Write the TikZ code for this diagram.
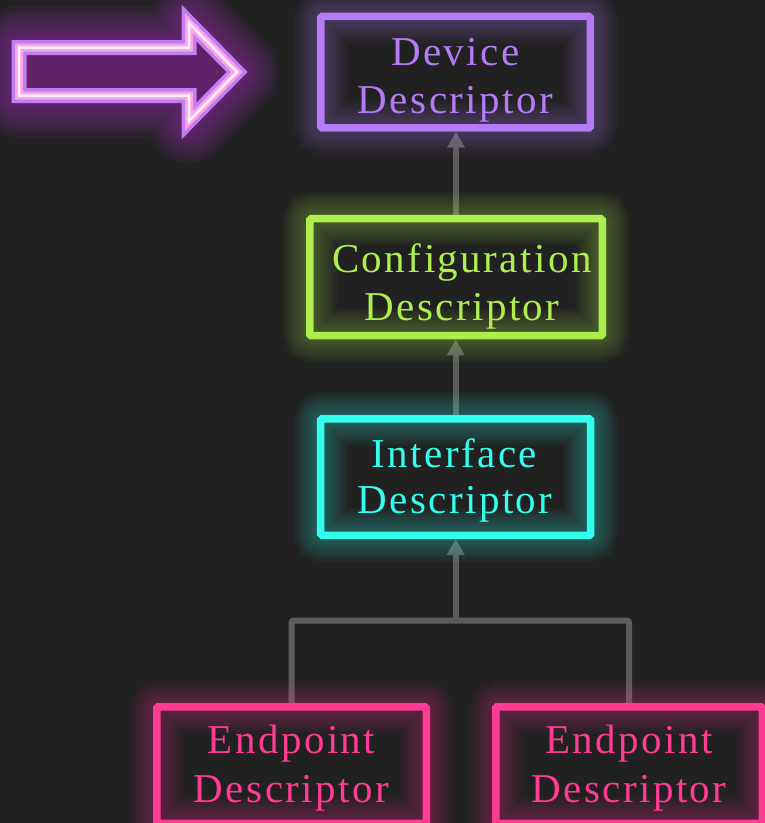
\documentclass[tikz,border=0pt]{standalone}
\usepackage{fontspec}
\newfontfamily\lblfont{Liberation Serif}[LetterSpace=6]
\usetikzlibrary{arrows.meta}
\definecolor{bg}{HTML}{212121}
\definecolor{cpurple}{HTML}{B47BF5}
\definecolor{cgreen}{HTML}{AEEE4E}
\definecolor{ccyan}{HTML}{33FFEE}
\definecolor{cpink}{HTML}{FF3B94}
\definecolor{connc}{HTML}{5C5C5C}
\definecolor{arrviolet}{HTML}{C07EF2}
\definecolor{arrpink}{HTML}{FFA2E4}
\definecolor{arrwhite}{HTML}{FFF2FF}
\definecolor{arrfill}{HTML}{62226A}
\definecolor{arrglow}{HTML}{9A30B0}
\pgfdeclarelayer{back}
\pgfdeclarelayer{mid}
\pgfsetlayers{back,mid,main}
\begin{document}
\begin{tikzpicture}[x=1pt,y=-1pt,
  box/.style={draw=#1, line width=7.5pt, rounded corners=1.5pt, inner sep=0pt},
  lbl/.style={font=\lblfont\fontsize{41}{48}\selectfont, text=#1, anchor=base, inner sep=0pt},
  conn/.style={draw=connc, line width=6pt},
  tip/.style={-{Triangle[width=17pt,length=16pt]}},
  glowline/.style={draw=#1, opacity=0.04, rounded corners=4pt}
]
\useasboundingbox (0,0) rectangle (765,823);
\begin{pgfonlayer}{back}
  \fill[bg] (0,0) rectangle (765,823);
\end{pgfonlayer}

% boxes
\node[box=cpurple, minimum width=269.5pt, minimum height=111.5pt] (dev) at (455.5,72.2) {};
\node[box=cgreen,  minimum width=292.5pt, minimum height=117pt]   (cfg) at (456,277.2) {};
\node[box=ccyan,   minimum width=270pt,   minimum height=116.5pt] (ifc) at (455.7,477) {};
\node[box=cpink,   minimum width=269.5pt, minimum height=116.5pt] (ep1) at (291.5,765) {};
\node[box=cpink,   minimum width=266.5pt, minimum height=116.5pt] (ep2) at (629,765) {};

% labels
\node[lbl=cpurple] (devA) at (455.5,65) {Device};
\node[lbl=cpurple] (devB) at (455.5,113) {Descriptor};
\node[lbl=cgreen] (cfgA) at (462,272) {Configuration};
\node[lbl=cgreen] (cfgB) at (462,320) {Descriptor};
\node[lbl=ccyan] (ifcA) at (454.5,467) {Interface};
\node[lbl=ccyan] (ifcB) at (455,513) {Descriptor};
\node[lbl=cpink] (ep1A) at (291.5,753) {Endpoint};
\node[lbl=cpink] (ep1B) at (291.5,802) {Descriptor};
\node[lbl=cpink] (ep2A) at (629,753) {Endpoint};
\node[lbl=cpink] (ep2B) at (629,802) {Descriptor};

% connectors
\coordinate (jn) at (455.7,620.7);
\begin{pgfonlayer}{back}
  \draw[conn,tip] (cfg.north) -- (cfg.north |- dev.south);
  \draw[conn,tip] (ifc.north) -- (ifc.north |- cfg.south);
  \draw[conn, rounded corners=2pt] (ep1.north) |- (jn) -| (ep2.north);
  \draw[conn,tip] (jn) -- (jn |- ifc.south);
\end{pgfonlayer}

% glows
\begin{pgfonlayer}{mid}
  \foreach \n/\c in {dev/cpurple, cfg/cgreen, ifc/ccyan, ep1/cpink, ep2/cpink} {
    \foreach \w in {12,18,...,54} {
      \draw[glowline=\c, line width=\w pt]
        ([xshift=3.75pt,yshift=-3.75pt]\n.north west) rectangle
        ([xshift=-3.75pt,yshift=3.75pt]\n.south east);
    }
  }
\end{pgfonlayer}

% big arrow
\coordinate (p1) at (19,47.5);
\coordinate (p2) at (189,47.5);
\coordinate (p3) at (189,23);
\coordinate (p4) at (237,72);
\coordinate (p5) at (189,121);
\coordinate (p6) at (189,95.5);
\coordinate (p7) at (19,95.5);
\foreach \w in {20,28,...,84} {
  \draw[draw=arrglow, opacity=0.08, line width=\w pt, line join=round]
    (p1) -- (p2) -- (p3) -- (p4) -- (p5) -- (p6) -- (p7) -- cycle;
}
\fill[arrfill] (p1) -- (p2) -- (p3) -- (p4) -- (p5) -- (p6) -- (p7) -- cycle;
\draw[arrviolet, line width=15pt, line join=miter]
  (p1) -- (p2) -- (p3) -- (p4) -- (p5) -- (p6) -- (p7) -- cycle;
\draw[arrpink, line width=8pt, line join=miter]
  (p1) -- (p2) -- (p3) -- (p4) -- (p5) -- (p6) -- (p7) -- cycle;
\draw[arrwhite, line width=2.5pt, line join=miter]
  (p1) -- (p2) -- (p3) -- (p4) -- (p5) -- (p6) -- (p7) -- cycle;
\end{tikzpicture}
\end{document}
